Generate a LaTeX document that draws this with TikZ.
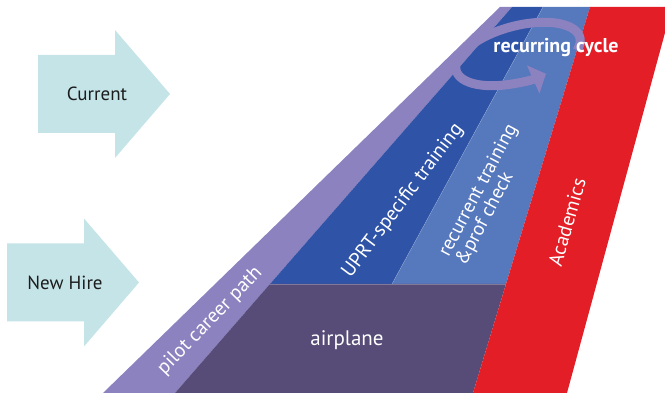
\documentclass[tikz,border=0pt]{standalone}
\usepackage{fontspec}
\setmainfont{PT Sans}
\usetikzlibrary{arrows.meta}

\definecolor{arrowcyan}{HTML}{C5E4E8}
\definecolor{pilotpurple}{HTML}{8C82BF}
\definecolor{uprtblue}{HTML}{2F54A7}
\definecolor{recblue}{HTML}{5678BD}
\definecolor{acadred}{HTML}{E31E27}
\definecolor{planepurple}{HTML}{574B78}
\definecolor{labelink}{HTML}{1C1C1C}

\begin{document}
\begin{tikzpicture}[x=1pt,y=1pt]
\tikzset{
  inarrow/.style={fill=arrowcyan},
  arrowlabel/.style={text=labelink,font=\fontsize{19}{22}\selectfont,inner sep=0pt},
  bandlabel/.style={text=white,font=\fontsize{20}{17}\selectfont,inner sep=0pt},
  loopring/.style={draw=pilotpurple,line width=9pt,-{Triangle[length=14pt,width=30pt]}}
}
\useasboundingbox (0,0) rectangle (665,395);
% entry arrows
\fill[inarrow] (38,262) -- (38,340) -- (115,340) -- (115,365) -- (170,301) -- (115,237) -- (115,262) -- cycle;
\fill[inarrow] (7,73.5) -- (7,151.5) -- (84,151.5) -- (84,176.5) -- (139,112.5) -- (84,48.5) -- (84,73.5) -- cycle;
\node[arrowlabel] (n_current) at (97,301) {Current};
\node[arrowlabel] (n_newhire) at (65,112) {New Hire};
% tail bands
\fill[pilotpurple] (103,2) -- (500,388) -- (512,388) -- (175,2) -- cycle;
\fill[uprtblue] (512,388) -- (543,388) -- (392,111) -- (270,111) -- cycle;
\fill[recblue] (543,388) -- (590,388) -- (506,111) -- (392,111) -- cycle;
\fill[planepurple] (270,111) -- (506,111) -- (473,2) -- (175,2) -- cycle;
\fill[acadred] (590,388) -- (672,388) -- (567,2) -- (473,2) -- cycle;
\draw[white,opacity=0.25,line width=0.8pt] (270,111) -- (506,111);
\draw[white,opacity=0.2,line width=0.6pt] (543,388) -- (392,111);
% loop
\draw[loopring,rotate around={15:(518,341)}] (518,341) ++(-25:64 and 28)
  arc[start angle=-25,end angle=290,x radius=64,y radius=28];
% labels
\node[bandlabel,font=\fontsize{20}{20}\selectfont\bfseries,anchor=base] (n_cycle) at (556,342) {recurring cycle};
\node[bandlabel,rotate=53] (n_uprt) at (403,194) {UPRT-specific training};
\node[bandlabel,font=\fontsize{19.5}{16}\selectfont,rotate=62,align=left] (n_recurrent) at (487,200) {recurrent training\\\&prof check};
\node[bandlabel,rotate=74] (n_academics) at (567,173) {Academics};
\node[bandlabel,rotate=46] (n_pilot) at (210,74) {pilot career path};
\node[bandlabel,font=\fontsize{21}{20}\selectfont] (n_airplane) at (347,55) {airplane};
\end{tikzpicture}
\end{document}
